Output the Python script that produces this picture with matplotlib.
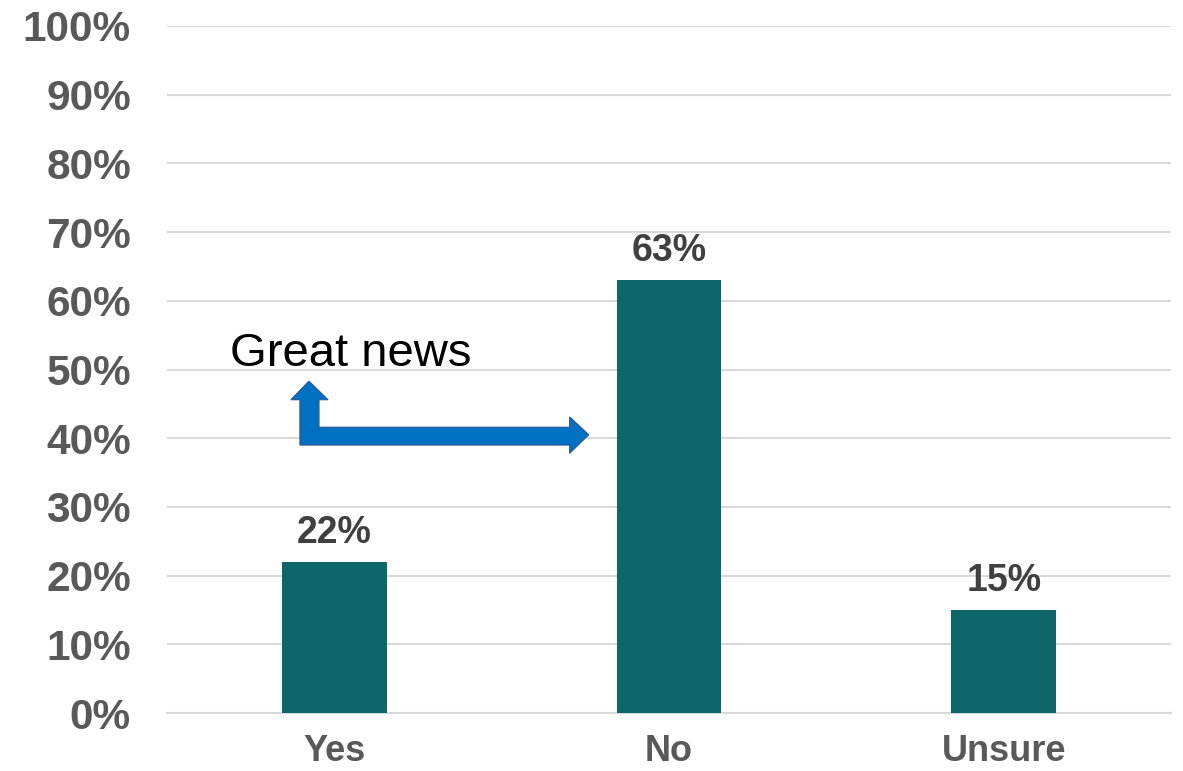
import matplotlib.pyplot as plt
from matplotlib.patches import Polygon

plt.rcParams["font.family"] = ["Liberation Sans", "DejaVu Sans"]

# 数据
categories = ["Yes", "No", "Unsure"]
values = [22, 63, 15]
y_ticks = list(range(0, 101, 10))

bar_color = "#0E6669"
grid_color = "#D9D9D9"
tick_color = "#595959"
label_color = "#404040"

fig = plt.figure(figsize=(11.83, 7.71), dpi=100)
ax = fig.add_axes([0.1412, 0.0752, 0.8487, 0.8911])

x = range(len(categories))
bars = ax.bar(x, values, width=0.313, color=bar_color, zorder=3)

ax.set_xlim(-0.5, 2.5)
ax.set_ylim(0, 100)
ax.set_yticks(y_ticks)
ax.set_yticklabels([f"{t}%" for t in y_ticks])
ax.set_xticks(list(x))
ax.set_xticklabels(categories)

ax.grid(axis="y", color=grid_color, linewidth=1.5, zorder=0)
for side in ["top", "right", "left"]:
    ax.spines[side].set_visible(False)
ax.spines["bottom"].set_color(grid_color)
ax.spines["bottom"].set_linewidth(1.5)

ax.tick_params(axis="y", length=0, pad=26, labelsize=30.5, labelcolor=tick_color)
ax.tick_params(axis="x", length=0, pad=15, labelsize=26, labelcolor=tick_color)
for lbl in ax.get_xticklabels() + ax.get_yticklabels():
    lbl.set_fontweight("bold")

# 柱子顶部数值
for bar, v in zip(bars, values):
    ax.annotate(f"{v}%", (bar.get_x() + bar.get_width() / 2, v),
                xytext=(0, 8), textcoords="offset points",
                ha="center", va="bottom", fontsize=27, fontweight="bold",
                color=label_color)

# 注释：Great news + 折线箭头
ax.text(-0.312, 50.5, "Great news", fontsize=34, color="black",
        ha="left", va="baseline")
arrow_pts = [(-0.076, 48.3), (-0.019, 45.6), (-0.046, 45.6), (-0.046, 41.6),
             (0.703, 41.6), (0.703, 43.1), (0.760, 40.5), (0.703, 37.8),
             (0.703, 39.0), (-0.103, 39.0), (-0.103, 45.6), (-0.130, 45.6)]
ax.add_patch(Polygon(arrow_pts, closed=True, facecolor="#0070C0",
                     edgecolor="#2F5597", linewidth=0.8, zorder=4))

plt.savefig("out.png", dpi=100)
